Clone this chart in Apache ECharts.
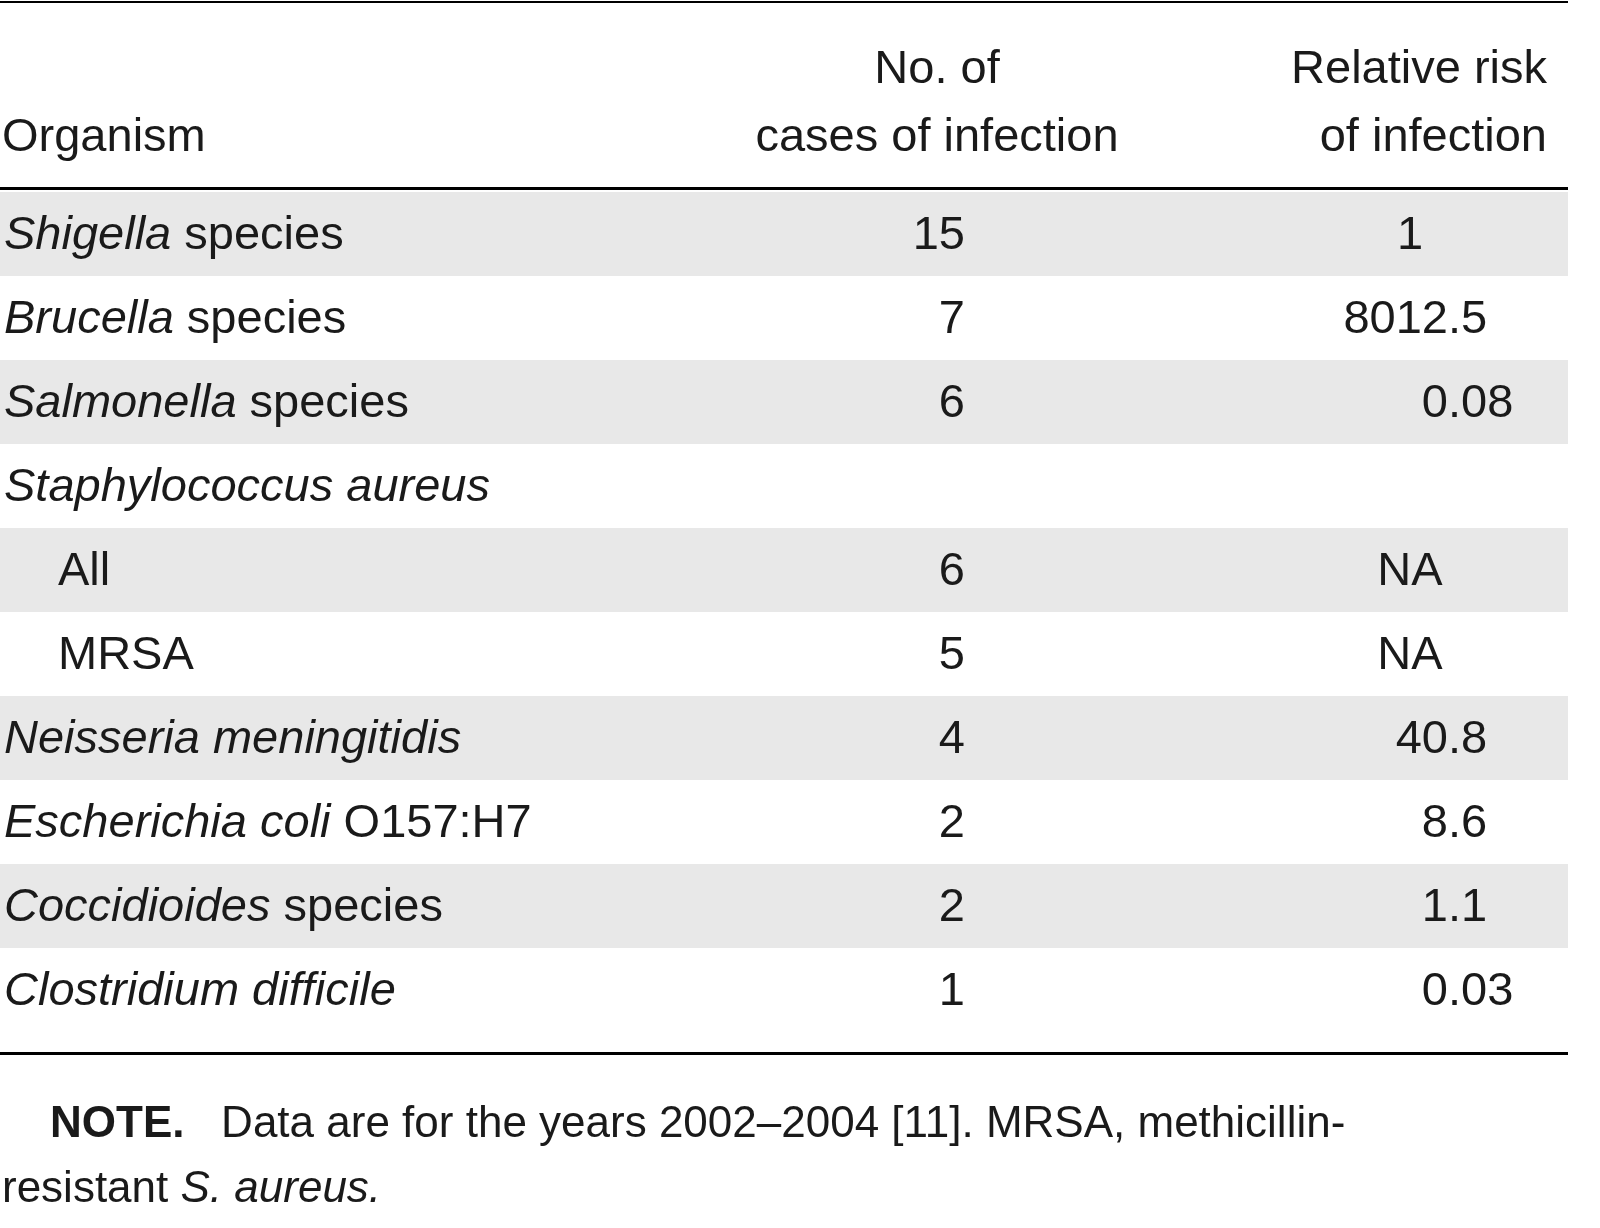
<!DOCTYPE html>
<html>
<head>
<meta charset="UTF-8">
<title>Organisms</title>
<style>
  html,body{margin:0;padding:0;background:#fff;}
  #chart{width:1600px;height:1228px;}
</style>
</head>
<body>
<div id="chart"></div>
<script src="https://cdn.jsdelivr.net/npm/echarts@6/dist/echarts.min.js"></script>
<script>
// table data
var organismItalic = ['Shigella', 'Brucella', 'Salmonella', 'Staphylococcus aureus', '', '', 'Neisseria meningitidis', 'Escherichia coli', 'Coccidioides', 'Clostridium difficile'];
var organismPlain = [' species', ' species', ' species', '', 'All', 'MRSA', '', ' O157:H7', ' species', ''];
var indented = [false, false, false, false, true, true, false, false, false, false];
var cases = ['15', '7', '6', '', '6', '5', '4', '2', '2', '1'];
var relRisk = ['1', '8012.5', '0.08', '', 'NA', 'NA', '40.8', '8.6', '1.1', '0.03'];
var headers = [['', 'Organism'], ['No. of', 'cases of infection'], ['Relative risk', 'of infection']];
var noteLines = ['Data are for the years 2002\u20132004 [11]. MRSA, methicillin-', 'resistant '];

var FAMILY = '"Liberation Sans", Arial, sans-serif';
var FS = 47;
var ROW_TOP = 192, ROW_H = 84;
var COLOR = '#1a1a1a';

var ctx = document.createElement('canvas').getContext('2d');
function measure(s, style, weight, size) {
  ctx.font = (style || 'normal') + ' ' + (weight || 'normal') + ' ' + (size || FS) + 'px ' + FAMILY;
  return ctx.measureText(s).width;
}

var g = [];
function txt(x, y, s, align, opts) {
  opts = opts || {};
  g.push({type: 'text', x: x, y: y, style: {
    text: s, fontSize: opts.size || FS, fontFamily: FAMILY,
    fontStyle: opts.italic ? 'italic' : 'normal', fontWeight: opts.bold ? 'bold' : 'normal',
    fill: COLOR, align: align || 'left', verticalAlign: 'middle'
  }});
}
function rect(y, h, fill, z) {
  g.push({type: 'rect', z: z, shape: {x: 0, y: y, width: 1568, height: h}, style: {fill: fill}});
}

// shaded rows
for (var i = 0; i < organismItalic.length; i += 2) rect(ROW_TOP + i * ROW_H, ROW_H, '#e8e8e8', 0);

// rules
rect(1, 2, '#000', 1);
rect(187, 3, '#000', 1);
rect(1052, 3, '#000', 1);

// header
txt(937, 70, headers[1][0], 'center');
txt(937, 138, headers[1][1], 'center');
txt(1547, 70, headers[2][0], 'right');
txt(1547, 138, headers[2][1], 'right');
txt(2, 138, headers[0][1], 'left');

// rows
for (var j = 0; j < organismItalic.length; j++) {
  var cy = ROW_TOP + j * ROW_H + ROW_H / 2 + 2;
  var x0 = indented[j] ? 58 : 4;
  if (organismItalic[j]) {
    txt(x0, cy, organismItalic[j], 'left', {italic: true});
    x0 += measure(organismItalic[j], 'italic');
  }
  if (organismPlain[j]) txt(x0, cy, organismPlain[j], 'left');
  if (cases[j]) txt(965, cy, cases[j], 'right');
  var r = relRisk[j];
  if (r) {
    if (r.indexOf('.') >= 0) {
      var p = r.split('.');
      txt(1448, cy, p[0], 'right');
      txt(1448, cy, '.' + p[1], 'left');
    } else {
      txt(1410, cy, r, 'center');
    }
  }
}

// note
var NFS = FS - 3;
txt(50, 1125, 'NOTE.', 'left', {bold: true, size: NFS});
txt(50 + measure('NOTE.', 'normal', 'bold', NFS), 1125, '   ' + noteLines[0], 'left', {size: NFS});
txt(2, 1190, noteLines[1], 'left', {size: NFS});
txt(2 + measure(noteLines[1], 'normal', 'normal', NFS), 1190, 'S. aureus.', 'left', {size: NFS, italic: true});

var chart = echarts.init(document.getElementById('chart'));
chart.setOption({animation: false, graphic: g});
</script>
</body>
</html>
